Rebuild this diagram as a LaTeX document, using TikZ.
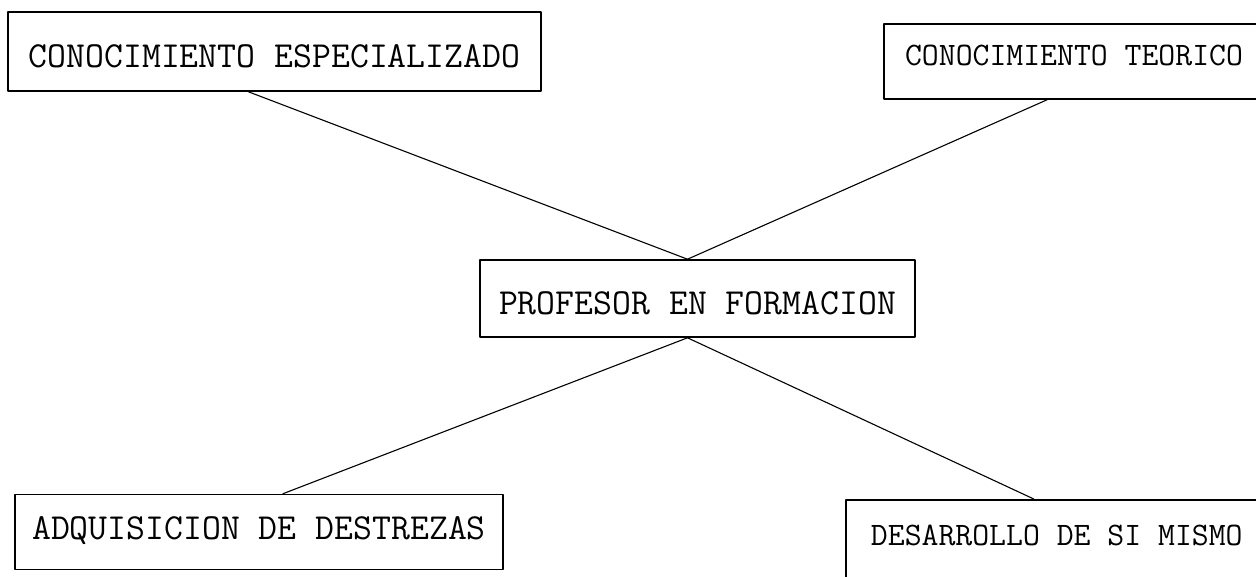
\documentclass[tikz,border=0pt]{standalone}
\usepackage{fontspec}
\begin{document}
\begin{tikzpicture}[x=1pt, y=-1pt, line join=round, line cap=round,
		caja/.style={draw, line width=1.6pt, inner sep=0pt, font=\ttfamily\fontsize{36.7}{40}\selectfont},
		cajab/.style={caja, font=\ttfamily\fontsize{32.8}{36}\selectfont},
		enlace/.style={line width=1.1pt}]
	\useasboundingbox (0,0) rectangle (1256,576);
	\clip (0,0) rectangle (1256,576);
	\node[caja, minimum width=533pt, minimum height=79pt, text height=32pt, text depth=0pt] (espec) at (274.5,51.5) {CONOCIMIENTO ESPECIALIZADO};
	\node[cajab, minimum width=380pt, minimum height=75pt, text height=22.4pt, text depth=15pt] (teor) at (1074,61.5) {CONOCIMIENTO TEORICO};
	\node[caja, minimum width=435pt, minimum height=77pt, text height=31pt, text depth=0pt] (prof) at (697.5,298.5) {PROFESOR EN FORMACION};
	\node[caja, minimum width=488pt, minimum height=75pt, text height=25pt, text depth=11pt] (adq) at (259,532) {ADQUISICION DE DESTREZAS};
	\node[cajab, anchor=north west, minimum width=422pt, inner ysep=23pt, text height=22.4pt, text depth=80pt] (des) at (845,499) {DESARROLLO DE SI MISMO};
	\draw[enlace] ([xshift=-26pt]espec.south) -- ([xshift=-10pt]prof.north);
	\draw[enlace] ([xshift=-27pt]teor.south) -- ([xshift=-10pt]prof.north);
	\draw[enlace] ([xshift=-10pt]prof.south) -- ([xshift=24pt]adq.north);
	\draw[enlace] ([xshift=-10pt]prof.south) -- ([xshift=-23pt]des.north);
\end{tikzpicture}
\end{document}
